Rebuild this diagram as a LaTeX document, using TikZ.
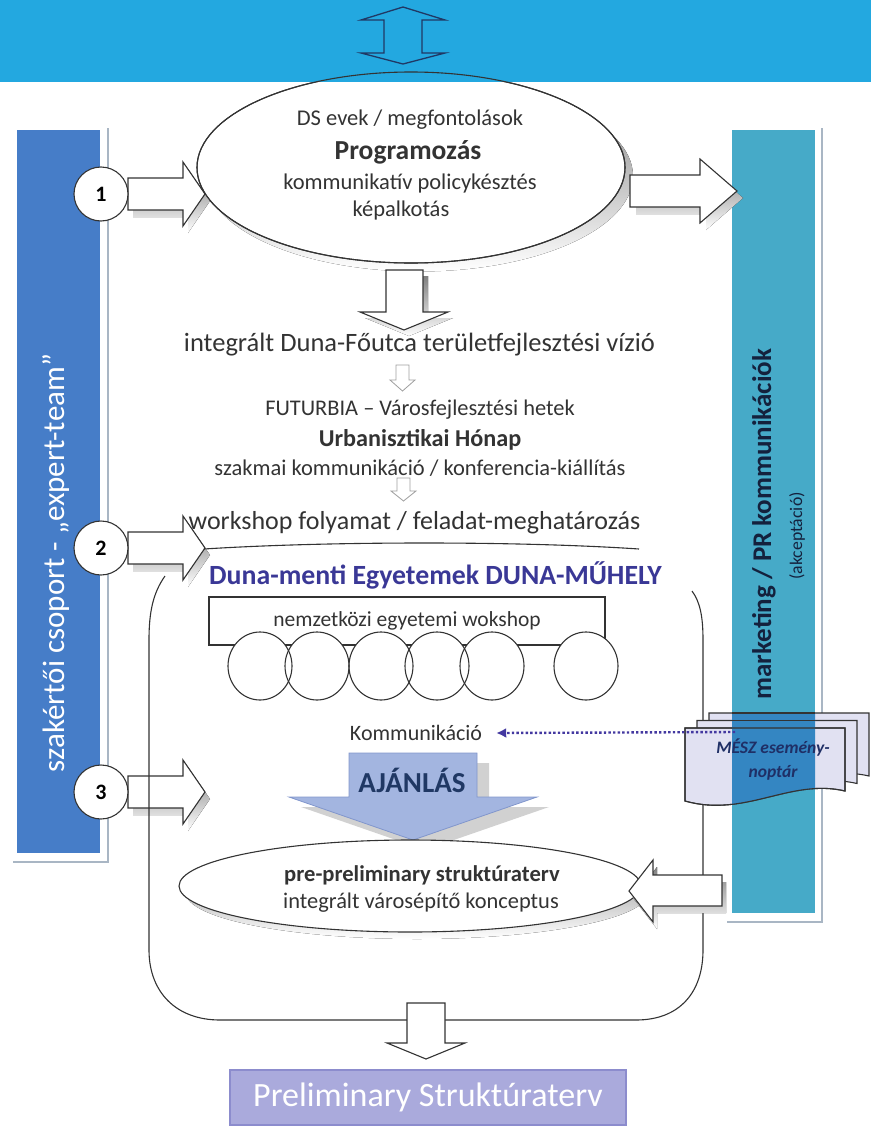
\documentclass[tikz,border=0pt]{standalone}
\usepackage{fontspec}
\setmainfont{Carlito}
\usetikzlibrary{shapes.geometric,arrows.meta}

\definecolor{banner}{HTML}{23A8E0}
\definecolor{leftbar}{HTML}{467DC8}
\definecolor{rightbar}{HTML}{46AAC8}
\definecolor{barline}{HTML}{A9B6C4}
\definecolor{shade}{HTML}{C2C2C2}
\definecolor{inkc}{HTML}{333333}
\definecolor{navy}{HTML}{203864}
\definecolor{indigo}{HTML}{3A3896}
\definecolor{barink}{HTML}{14213D}
\definecolor{dotc}{HTML}{4338A0}
\definecolor{meszc}{HTML}{1F2F66}
\definecolor{ajanlas}{HTML}{A3B5E0}
\definecolor{ajanlasline}{HTML}{8196CC}
\definecolor{lavender}{HTML}{E1E1F2}
\definecolor{sheetblue}{HTML}{3486C2}
\definecolor{prelim}{HTML}{AAAADC}
\definecolor{prelimline}{HTML}{8C8CCD}

\begin{document}
\begin{tikzpicture}[x=1pt,y=-1pt,
  ink/.style={draw=inkc,line width=1.1pt},
  whitearrow/.style={ink,fill=white,line join=miter},
  lightarrow/.style={draw=gray!75,line width=0.8pt,fill=white},
  txt/.style={inner sep=0pt,text=inkc},
  badge/.style={circle,ink,fill=white,minimum size=54pt,inner sep=0pt,font=\bfseries\fontsize{22}{24}\selectfont},
  dotarrow/.style={draw=dotc,line width=2.4pt,dash pattern=on 2.4pt off 2.2pt,-{Latex[length=10pt,width=10pt]}},
]
\useasboundingbox (0,0) rectangle (871,1127);

% side bars
\draw[barline,line width=1.6pt] (108,128) -- (108,862) -- (13,862);
\fill[leftbar] (17,130) rectangle (100,853);
\node[txt,text=white,rotate=90,font=\fontsize{31}{34}\selectfont] (expert) at (56,563) {szakértői csoport - „expert-team”};
\draw[barline,line width=1.6pt] (822,128) -- (822,922) -- (727,922);
\fill[rightbar] (732,130) rectangle (815,913);
\node[txt,rotate=90,text=barink,font=\bfseries\fontsize{27}{30}\selectfont] (mkt) at (764,524) {marketing / PR kommunikációk};
\node[txt,rotate=90,text=barink,font=\fontsize{17.7}{20}\selectfont] (akc) at (797,536) {(akceptáció)};

% programming ellipse and banner
\fill[shade] (419,176) ellipse [x radius=214, y radius=95.5];
\node[ellipse,ink,fill=white,minimum width=428pt,minimum height=191pt,inner sep=0pt] (prog) at (411,167.5) {};
\fill[banner] (0,0) rectangle (871,82);
\draw[navy,line width=1.3pt,line join=miter] (384,20) -- (361,20) -- (403,7) -- (445,20) -- (422,20) -- (422,53) -- (445,53) -- (403,64) -- (361,53) -- (384,53) -- cycle;

% arrow 1 and arrow to the right bar
\fill[shade,shift={(5,7)}] (128,178) -- (183,178) -- (183,162) -- (205,194) -- (183,226) -- (183,210) -- (128,210) -- cycle;
\draw[whitearrow] (128,178) -- (183,178) -- (183,162) -- (205,194) -- (183,226) -- (183,210) -- (128,210) -- cycle;
\node[badge] (n1) at (101,194) {1};
\fill[shade,shift={(6,7)}] (630,175) -- (700,175) -- (700,159) -- (737,191) -- (700,223) -- (700,207) -- (630,207) -- cycle;
\draw[whitearrow] (630,175) -- (700,175) -- (700,159) -- (737,191) -- (700,223) -- (700,207) -- (630,207) -- cycle;
\draw[ink] (prog.center) ellipse [x radius=214, y radius=95.5];

\node[txt,font=\fontsize{22.5}{26}\selectfont] (dsevek) at (410,120) {DS evek / megfontolások};
\node[txt,font=\bfseries\fontsize{27.5}{32}\selectfont] (progr) at (408,152) {Programozás};
\node[txt,font=\fontsize{22.5}{26}\selectfont] (kompol) at (410,183) {kommunikatív policykésztés};
\node[txt,font=\fontsize{22.5}{26}\selectfont] (kepalk) at (401,210) {képalkotás};

% down the middle
\fill[shade,shift={(5,6)}] (386,270) -- (423,270) -- (423,312) -- (448,312) -- (404,330) -- (360,312) -- (386,312) -- cycle;
\draw[whitearrow] (386,270) -- (423,270) -- (423,312) -- (448,312) -- (404,330) -- (360,312) -- (386,312) -- cycle;
\node[txt,font=\fontsize{26.5}{30}\selectfont] (vizio) at (419.5,345) {integrált Duna-Főutca területfejlesztési vízió};
\draw[lightarrow] (396,365) -- (409,365) -- (409,380) -- (415,380) -- (402.5,391) -- (390,380) -- (396,380) -- cycle;
\node[txt,font=\fontsize{22.4}{26}\selectfont] (futurbia) at (420,410) {FUTURBIA – Városfejlesztési hetek};
\node[txt,font=\bfseries\fontsize{24.2}{28}\selectfont] (honap) at (420,440) {Urbanisztikai Hónap};
\node[txt,font=\fontsize{22.5}{26}\selectfont] (szakmai) at (420,468) {szakmai kommunikáció / konferencia-kiállítás};
\draw[lightarrow] (397,478) -- (410,478) -- (410,491) -- (416,491) -- (403.5,501) -- (391,491) -- (397,491) -- cycle;
\node[txt,font=\fontsize{26}{30}\selectfont] (wsfoly) at (414.5,523) {workshop folyamat / feladat-meghatározás};

% arrows 2 and 3
\fill[shade,shift={(5,7)}] (128,532) -- (183,532) -- (183,516) -- (205,548) -- (183,580) -- (183,564) -- (128,564) -- cycle;
\draw[whitearrow] (128,532) -- (183,532) -- (183,516) -- (205,548) -- (183,580) -- (183,564) -- (128,564) -- cycle;
\node[badge] (n2) at (101,548) {2};
\fill[shade,shift={(5,7)}] (128,776) -- (183,776) -- (183,760) -- (205,792) -- (183,824) -- (183,808) -- (128,808) -- cycle;
\draw[whitearrow] (128,776) -- (183,776) -- (183,760) -- (205,792) -- (183,824) -- (183,808) -- (128,808) -- cycle;
\node[badge] (n3) at (101,792) {3};

% workshop frame
\draw[ink] (204,549) .. controls (330,541) and (520,541) .. (639,549);
\draw[ink] (165,576) .. controls (153,593) and (149,612) .. (149,640) -- (149,950) .. controls (149,992) and (176,1020) .. (220,1020) -- (636,1020) .. controls (680,1020) and (703,992) .. (703,950) -- (703,640) .. controls (703,616) and (700,602) .. (692,591);

\node[txt,text=indigo,font=\bfseries\fontsize{27.8}{32}\selectfont] (muhely) at (435.5,575) {Duna-menti Egyetemek DUNA-MŰHELY};
\node[ink,rectangle,minimum width=396pt,minimum height=48pt,inner sep=0pt,font=\fontsize{21.5}{24}\selectfont,text=inkc] (nemz) at (407,621) {nemzetközi egyetemi wokshop};
\foreach \cx [count=\i] in {260,317,381,437,492,586}
  \node[ellipse,fill=white,minimum width=64pt,minimum height=68pt,inner sep=0pt] (ws\i) at (\cx,666) {};
\foreach \i in {1,...,6}
  \draw[ink] (ws\i.center) ellipse [x radius=32, y radius=34];

% event calendar
\node[txt,font=\fontsize{22}{26}\selectfont] (komm) at (416,733) {Kommunikáció};
\foreach \k in {2,1,0}
  \draw[ink,fill=lavender,shift={(12*\k,-7.5*\k)}] (685,728) -- (845,728) -- (845,791) .. controls (790,778) and (745,818) .. (685,801) -- cycle;
% where the sheets lie over the bar
\path[fill=sheetblue] (732,713) -- (815,713) -- (815,788.6) .. controls (790,791) and (760,800) .. (732,804.5) -- cycle;
\draw[ink] (732,713) -- (815,713) (732,720.5) -- (815,720.5);
\draw[ink] (685,728) -- (845,728) -- (845,791) .. controls (790,778) and (745,818) .. (685,801) -- cycle;
\node[txt,text=meszc,align=center,font=\bfseries\itshape\fontsize{17.5}{24}\selectfont] (mesz) at (773,760) {MÉSZ esemény-\\noptár};
\draw[dotarrow] (735,732) -- ([xshift=14pt]komm.east);

% recommendation
\fill[shade!75,shift={(12,10)}] (349,753) -- (477,753) -- (477,797) -- (537,797) -- (413,840) -- (289,797) -- (349,797) -- cycle;
\draw[fill=ajanlas,draw=ajanlasline,line width=0.8pt] (349,753) -- (477,753) -- (477,797) -- (537,797) -- (413,840) -- (289,797) -- (349,797) -- cycle;
\node[txt,text=navy,font=\bfseries\fontsize{29}{32}\selectfont] (ajanl) at (412,780) {AJÁNLÁS};

% pre-preliminary
\fill[shade] (417,893) ellipse [x radius=231, y radius=46];
\node[ellipse,ink,fill=white,minimum width=462pt,minimum height=92pt,inner sep=0pt] (prepre) at (410,886) {};
\node[txt,font=\bfseries\fontsize{22.6}{26}\selectfont] (pp1) at (422,875) {pre-preliminary struktúraterv};
\node[txt,font=\fontsize{22.4}{26}\selectfont] (pp2) at (421,903) {integrált városépítő konceptus};
\fill[shade,shift={(4,7)}] (722,875) -- (653,875) -- (653,860) -- (629,891) -- (653,922) -- (653,906) -- (722,906) -- cycle;
\draw[whitearrow] (722,875) -- (653,875) -- (653,860) -- (629,891) -- (653,922) -- (653,906) -- (722,906) -- cycle;

% result
\draw[whitearrow] (407,1003) -- (445,1003) -- (445,1043) -- (465,1043) -- (426,1059) -- (387,1043) -- (407,1043) -- cycle;
\node[rectangle,fill=prelim,draw=prelimline,line width=2pt,minimum width=396pt,minimum height=55pt,inner sep=0pt,text=white,font=\fontsize{34}{38}\selectfont] (prelim) at (428,1097.5) {Preliminary Struktúraterv};

\end{tikzpicture}
\end{document}
